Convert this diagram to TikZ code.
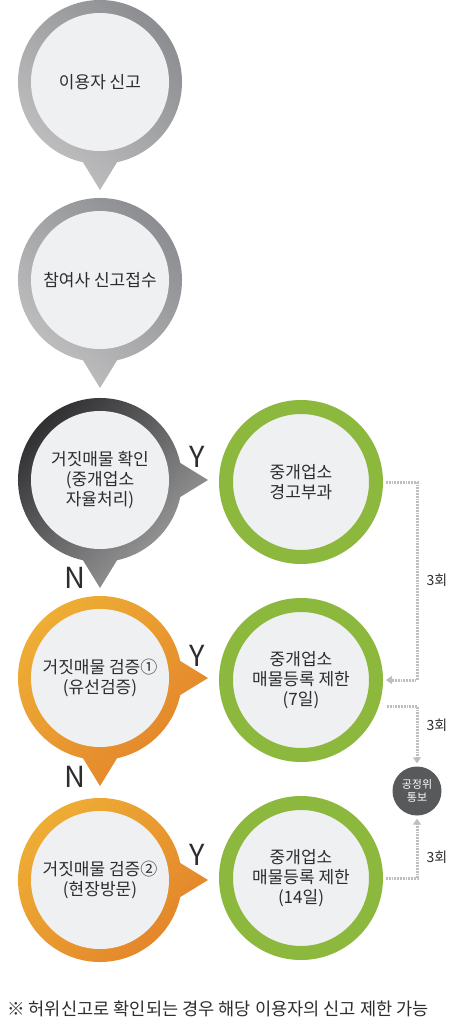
\documentclass[tikz,border=0pt]{standalone}
\usepackage{fontspec}
\setmainfont{Noto Sans CJK KR}
\usetikzlibrary{arrows.meta}
\definecolor{bubblefill}{HTML}{EFF0F2}
\definecolor{greyhi}{HTML}{8A8C8F}
\definecolor{greylo}{HTML}{C2C1C2}
\definecolor{darkhi}{HTML}{2E2E30}
\definecolor{darklo}{HTML}{A2A2A3}
\definecolor{orangehi}{HTML}{EEAE35}
\definecolor{orangelo}{HTML}{E3832A}
\definecolor{leaf}{HTML}{8BB83D}
\definecolor{dots}{HTML}{BDBEC1}
\definecolor{ink}{HTML}{2D2D2D}
\definecolor{kftcgrey}{HTML}{58595B}

\begin{document}
\begin{tikzpicture}[x=1pt,y=1pt,>={Triangle[length=6pt,width=8pt]},
  disc/.style={circle,fill=bubblefill,minimum size=138pt,inner sep=0pt,align=center,
    text=ink,font=\fontsize{17}{20}\selectfont},
  ring/.style={disc,draw=leaf,line width=14pt,minimum size=150pt},
  yn/.style={text=ink,font=\fontsize{29}{29}\selectfont,inner sep=0pt},
  count/.style={text=ink,font=\fontsize{14}{14}\selectfont,inner sep=0pt},
  link/.style={dots,line width=3pt,dash pattern=on 1.8pt off 1pt}]
  \useasboundingbox (0,0) rectangle (454,-1024);
  % bubbles with pointers
  \foreach \cy in {-82,-280}
    \shade[shift={(100,\cy)},top color=greyhi,bottom color=greylo,shading angle=-45]
      (-78:82) arc[start angle=-78,end angle=258,radius=82] -- (0,-108) -- cycle;
  \shade[shift={(100,-480)},top color=darkhi,bottom color=darklo,shading angle=45]
    (12:82) arc[start angle=12,end angle=258,radius=82] -- (0,-108)
    -- (282:82) arc[start angle=282,end angle=348,radius=82] -- (108,0) -- cycle;
  \shade[shift={(100,-678)},top color=orangehi,bottom color=orangelo,shading angle=45]
    (12:82) arc[start angle=12,end angle=258,radius=82] -- (0,-108)
    -- (282:82) arc[start angle=282,end angle=348,radius=82] -- (108,0) -- cycle;
  \shade[shift={(100,-880)},top color=orangehi,bottom color=orangelo,shading angle=45]
    (12:82) arc[start angle=12,end angle=348,radius=82] -- (108,0) -- cycle;
  \node[disc] (c1) at (100,-82) {이용자 신고};
  \node[disc] (c2) at (100,-280) {참여사 신고접수};
  \node[disc] (c3) at (100,-480) {거짓매물 확인\\(중개업소\\자율처리)};
  \node[disc] (c4) at (100,-678) {거짓매물 검증①\\(유선검증)};
  \node[disc] (c5) at (100,-880) {거짓매물 검증②\\(현장방문)};
  \node[yn] (yes1) at (197,-457) {Y};
  \node[yn] (yes2) at (197,-656) {Y};
  \node[yn] (yes3) at (197,-855) {Y};
  \node[yn] (no1) at (75,-578) {N};
  \node[yn] (no2) at (75,-777) {N};
  % sanctions
  \node[ring] (g1) at (301,-482) {중개업소\\경고부과};
  \node[ring] (g2) at (301,-680) {중개업소\\매물등록 제한\\(7일)};
  \node[ring] (g3) at (301,-878) {중개업소\\매물등록 제한\\(14일)};
  \node[circle,fill=kftcgrey,minimum size=49pt,inner sep=0pt,align=center,text=white,
    font=\fontsize{11}{13}\selectfont] (kftc) at (417,-791) {공정위\\통보};
  \coordinate (k1) at (417,-482);
  \draw[link,->] ([xshift=3pt]g1.east) -- (k1) |- ([xshift=3pt]g2.east);
  \draw[link,->,shorten >=3pt] ([shift={(4pt,-26pt)}]g2.east) -| (kftc.north);
  \draw[link,->,shorten >=3pt] ([xshift=3pt]g3.east) -| (kftc.south);
  \node[count] (n1) at (437,-580) {3회};
  \node[count] (n2) at (437,-725) {3회};
  \node[count] (n3) at (437,-857) {3회};
  \node[anchor=base west,inner sep=0pt,text=ink,font=\fontsize{17.6}{17.6}\selectfont] (note)
    at (7,-1015) {※ 허위신고로 확인되는 경우 해당 이용자의 신고 제한 가능};
\end{tikzpicture}
\end{document}
